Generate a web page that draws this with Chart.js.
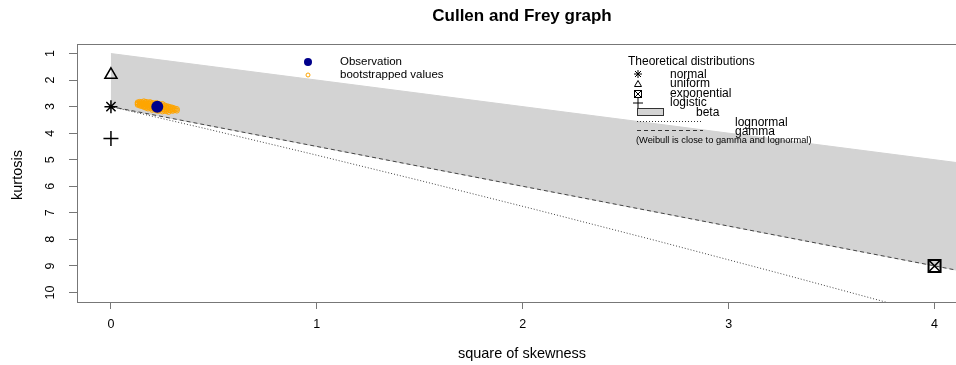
<!DOCTYPE html>
<html><head><meta charset="utf-8">
<script src="https://cdn.jsdelivr.net/npm/chart.js@4/dist/chart.umd.min.js"></script>
<style>html,body{margin:0;padding:0;background:#fff;overflow:hidden}#wrap{width:978px;height:365px;overflow:hidden;position:relative;background:#fff}canvas{display:block}</style>
</head><body><div id="wrap"><canvas id="c" width="978" height="365" style="width:978px;height:365px"></canvas></div>
<script>
// ---- data ----
const xTicks = [0, 1, 2, 3, 4];
const yTicks = [1, 2, 3, 4, 5, 6, 7, 8, 9, 10];
// beta region (grey polygon)
const betaX = [0, 4.3, 4.3, 0];
const betaY = [1, 5.3, 9.45, 3];
// gamma line (dashed)
const gammaX = [0, 4.3];
const gammaY = [3, 9.45];
// lognormal line (dotted)
const lnormX = [0, 0.465, 0.961, 1.488, 2.048, 2.641, 3.267, 3.928];
const lnormY = [3, 3.838, 4.756, 5.758, 6.85, 8.035, 9.32, 10.71];
// bootstrapped values
const bootX = [0.13,0.13,0.13,0.14,0.14,0.14,0.14,0.15,0.15,0.15,0.15,0.16,0.16,0.16,0.16,0.16,0.17,0.17,0.17,0.17,0.17,0.18,0.18,0.18,0.18,0.18,0.19,0.19,0.19,0.19,0.20,0.20,0.20,0.20,0.20,0.21,0.21,0.21,0.22,0.22,0.22,0.23,0.23,0.23,0.24,0.24,0.24,0.24,0.25,0.25,0.25,0.25,0.25,0.26,0.26,0.26,0.26,0.27,0.27,0.27,0.27,0.28,0.28,0.28,0.28,0.29,0.29,0.29,0.30,0.30,0.30,0.31,0.31,0.32,0.32];
const bootY = [2.84,2.89,2.93,2.82,2.87,2.92,2.96,2.83,2.88,2.93,2.98,2.80,2.86,2.91,2.96,3.01,2.82,2.88,2.93,2.99,3.04,2.84,2.90,2.95,3.01,3.07,2.83,2.89,2.97,3.04,2.86,2.92,2.99,3.06,3.12,2.88,3.02,3.10,2.86,3.08,3.14,2.89,3.11,3.16,2.92,2.98,3.05,3.12,2.90,2.97,3.03,3.10,3.18,2.95,3.01,3.08,3.15,2.98,3.04,3.10,3.17,3.00,3.06,3.13,3.20,3.02,3.08,3.14,3.04,3.10,3.16,3.07,3.13,3.09,3.15];
// observation
const obsX = [0.225];
const obsY = [3.0];
// theoretical distributions [skewness^2, kurtosis]
const normalPt = [0, 3];
const uniformPt = [0, 1.8];
const exponentialPt = [4, 9];
const logisticPt = [0, 4.2];

const FONT = '"Liberation Sans", Arial, Helvetica, sans-serif';
const pts = (xs, ys) => xs.map((x, i) => ({x: x, y: ys[i]}));

const annot = {
  id: 'annot',
  afterDatasetsDraw(chart) {
    const ctx = chart.ctx, ys = chart.scales.y, a = chart.chartArea;
    ctx.save();
    // box
    ctx.strokeStyle = '#777'; ctx.lineWidth = 1;
    ctx.strokeRect(Math.round(a.left) - 0.5, Math.round(a.top) + 0.5, a.right - a.left + 1, a.bottom - a.top);
    // title
    ctx.fillStyle = '#000';
    ctx.textAlign = 'center'; ctx.textBaseline = 'middle';
    ctx.font = 'bold 17px ' + FONT;
    ctx.fillText('Cullen and Frey graph', 522, 16);
    // axis titles
    ctx.font = '14.5px ' + FONT;
    ctx.fillText('square of skewness', 522, 354);
    ctx.save(); ctx.translate(18, 175); ctx.rotate(-Math.PI / 2); ctx.fillText('kurtosis', 0, 0); ctx.restore();
    // y tick labels (rotated)
    ctx.font = '12.5px ' + FONT;
    yTicks.forEach(v => {
      const py = ys.getPixelForValue(v);
      ctx.save(); ctx.translate(51, py); ctx.rotate(-Math.PI / 2); ctx.fillText(String(v), 0, 0); ctx.restore();
    });
    // legend 1
    ctx.textAlign = 'left';
    ctx.font = '11.5px ' + FONT;
    ctx.fillStyle = '#00008B';
    ctx.beginPath(); ctx.arc(308, 62, 4, 0, Math.PI * 2); ctx.fill();
    ctx.strokeStyle = '#FFA500'; ctx.lineWidth = 1;
    ctx.beginPath(); ctx.arc(308, 75, 2, 0, Math.PI * 2); ctx.stroke();
    ctx.fillStyle = '#000';
    ctx.fillText('Observation', 340, 62);
    ctx.fillText('bootstrapped values', 340, 75);
    // legend 2
    ctx.font = '12px ' + FONT;
    ctx.fillText('Theoretical distributions', 628, 62);
    ctx.fillText('normal', 670, 74.5);
    ctx.fillText('uniform', 670, 84);
    ctx.fillText('exponential', 670, 93.5);
    ctx.fillText('logistic', 670, 103);
    ctx.fillText('beta', 696, 113);
    ctx.fillText('lognormal', 735, 122.5);
    ctx.fillText('gamma', 735, 131.5);
    ctx.font = '9.3px ' + FONT;
    ctx.fillText('(Weibull is close to gamma and lognormal)', 636, 140.5);
    // legend symbols
    ctx.strokeStyle = '#000'; ctx.lineWidth = 1;
    const sx = 638;
    ctx.beginPath();
    ctx.moveTo(sx - 4, 74); ctx.lineTo(sx + 4, 74);
    ctx.moveTo(sx, 70); ctx.lineTo(sx, 78);
    ctx.moveTo(sx - 3, 71); ctx.lineTo(sx + 3, 77);
    ctx.moveTo(sx - 3, 77); ctx.lineTo(sx + 3, 71);
    ctx.stroke();
    ctx.beginPath(); ctx.moveTo(sx, 80.5); ctx.lineTo(sx - 3.5, 86.5); ctx.lineTo(sx + 3.5, 86.5); ctx.closePath(); ctx.stroke();
    ctx.strokeRect(sx - 3.5, 90.5, 7, 7);
    ctx.beginPath(); ctx.moveTo(sx - 3.5, 90.5); ctx.lineTo(sx + 3.5, 97.5); ctx.moveTo(sx - 3.5, 97.5); ctx.lineTo(sx + 3.5, 90.5); ctx.stroke();
    ctx.beginPath(); ctx.moveTo(sx - 5, 103); ctx.lineTo(sx + 5, 103); ctx.moveTo(sx, 98); ctx.lineTo(sx, 108); ctx.stroke();
    ctx.fillStyle = '#D3D3D3';
    ctx.fillRect(637.5, 108.5, 26, 7);
    ctx.strokeStyle = '#333'; ctx.strokeRect(637.5, 108.5, 26, 7);
    ctx.strokeStyle = '#333';
    ctx.setLineDash([1, 2]);
    ctx.beginPath(); ctx.moveTo(637, 121.5); ctx.lineTo(703, 121.5); ctx.stroke();
    ctx.setLineDash([4, 3]);
    ctx.beginPath(); ctx.moveTo(637, 130.5); ctx.lineTo(703, 130.5); ctx.stroke();
    ctx.setLineDash([]);
    ctx.restore();
  }
};

const tickLabelFont = {family: FONT, size: 12.5};

new Chart(document.getElementById('c'), {
  type: 'scatter',
  data: {
    datasets: [
      {label: 'beta', type: 'line', data: pts(betaX, betaY), showLine: true, fill: 'shape',
       backgroundColor: '#D3D3D3', borderColor: '#D3D3D3', borderWidth: 1, pointRadius: 0, order: 20},
      {label: 'gamma', type: 'line', data: pts(gammaX, gammaY), showLine: true, fill: false,
       borderColor: '#444', borderWidth: 1, borderDash: [4, 3], pointRadius: 0, order: 19},
      {label: 'lognormal', type: 'line', data: pts(lnormX, lnormY), showLine: true, fill: false,
       borderColor: '#444', borderWidth: 1, borderDash: [1, 2], pointRadius: 0, order: 18},
      {label: 'bootstrapped values', data: pts(bootX, bootY), pointRadius: 2.5, pointBorderWidth: 1,
       pointBorderColor: '#FFA500', pointBackgroundColor: 'rgba(0,0,0,0)', order: 10},
      {label: 'Observation', data: pts(obsX, obsY), pointRadius: 6, pointBorderWidth: 0,
       pointBackgroundColor: '#00008B', pointBorderColor: '#00008B', order: 9},
      {label: 'normal', data: [{x: normalPt[0], y: normalPt[1]}], pointStyle: 'star', pointRadius: 6.5,
       pointBorderWidth: 1.5, pointBorderColor: '#000', order: 5},
      {label: 'uniform', data: [{x: uniformPt[0], y: uniformPt[1]}], pointStyle: 'triangle', pointRadius: 7,
       pointBorderWidth: 1.5, pointBorderColor: '#000', pointBackgroundColor: 'rgba(0,0,0,0)', order: 5},
      {label: 'exponential', data: [{x: exponentialPt[0], y: exponentialPt[1]}], pointStyle: 'rect', pointRadius: 8.5,
       pointBorderWidth: 2, pointBorderColor: '#000', pointBackgroundColor: 'rgba(0,0,0,0)', order: 5},
      {label: 'exponential x', data: [{x: exponentialPt[0], y: exponentialPt[1]}], pointStyle: 'crossRot', pointRadius: 8.5,
       pointBorderWidth: 1.5, pointBorderColor: '#000', order: 5},
      {label: 'logistic', data: [{x: logisticPt[0], y: logisticPt[1]}], pointStyle: 'cross', pointRadius: 7.5,
       pointBorderWidth: 1.5, pointBorderColor: '#000', order: 5}
    ]
  },
  options: {
    responsive: false, animation: false, devicePixelRatio: 1,
    layout: {padding: {left: 0, top: 44, right: 3, bottom: 0}},
    plugins: {legend: {display: false}, tooltip: {enabled: false}, title: {display: false}},
    scales: {
      x: {
        type: 'linear', min: -0.16, max: 4.16,
        afterBuildTicks: s => { s.ticks = xTicks.map(v => ({value: v})); },
        afterFit: s => { s.height = 63; s.paddingLeft = 0; s.paddingRight = 0; },
        ticks: {font: tickLabelFont, color: '#000', padding: 8, includeBounds: false, maxRotation: 0},
        grid: {drawOnChartArea: false, drawTicks: true, tickLength: 7, color: '#777', lineWidth: 1},
        border: {display: false}
      },
      y: {
        type: 'linear', min: 0.64, max: 10.36, reverse: true,
        afterBuildTicks: s => { s.ticks = yTicks.map(v => ({value: v})); },
        afterFit: s => { s.width = 78; s.paddingTop = 0; s.paddingBottom = 0; },
        ticks: {display: false, includeBounds: false},
        grid: {drawOnChartArea: false, drawTicks: true, tickLength: 9, color: '#777', lineWidth: 1},
        border: {display: false}
      }
    }
  },
  plugins: [annot]
});
</script>
</body></html>
